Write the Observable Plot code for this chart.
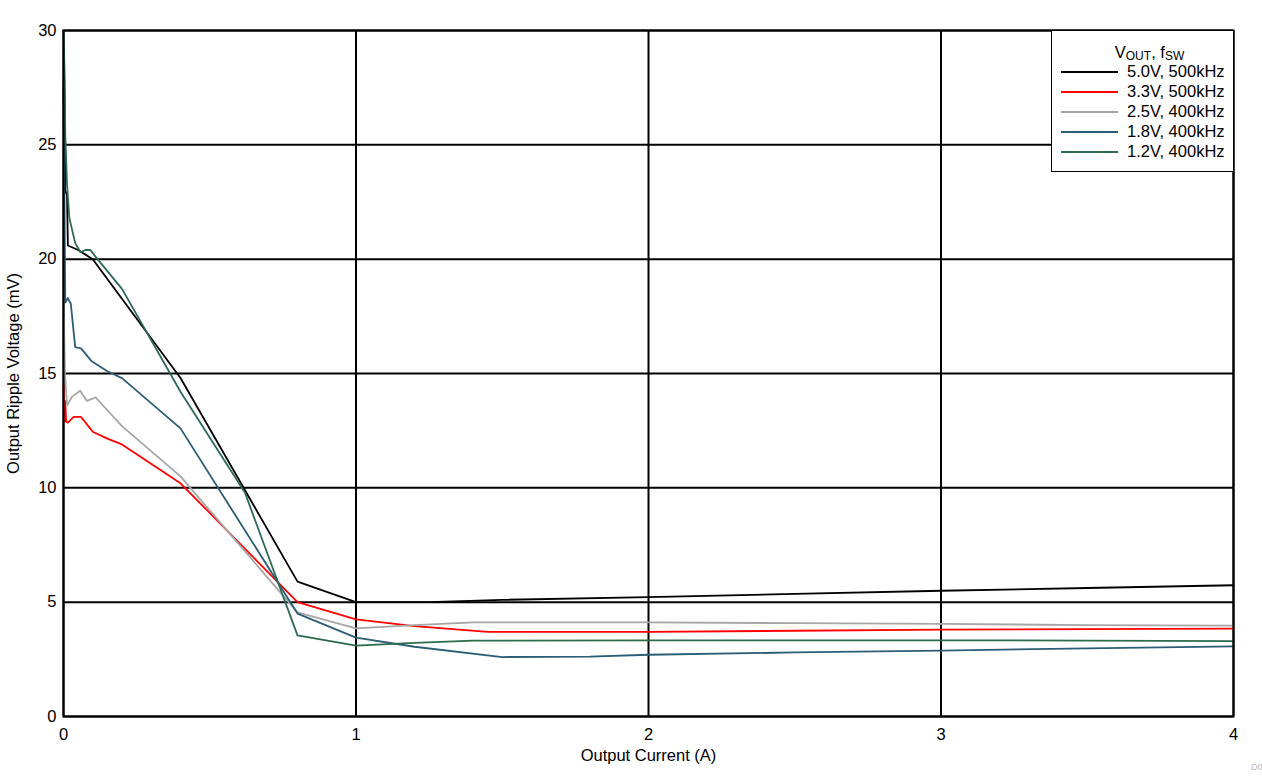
<!DOCTYPE html>
<html>
<head>
<meta charset="utf-8">
<script src="https://cdn.jsdelivr.net/npm/d3@7"></script>
<script src="https://cdn.jsdelivr.net/npm/@observablehq/plot@0.6"></script>
<style>
  body { margin: 0; background: #fff; font-family: "Liberation Sans", Arial, sans-serif; }
  #wrap { position: relative; width: 1262px; height: 776px; }
  #legend { position: absolute; left: 1051px; top: 30px; width: 183px; height: 142px; border: 1.5px solid #000; background: #fff; font-size: 16.5px; color: #000; box-sizing: border-box; }
  #legend .title { text-align: center; margin-top: 12px; margin-left: 14px; line-height: 18px; height: 18px; }
  #legend .title sub { font-size: 12px; vertical-align: -2px; line-height: 0; }
  #legend .row { position: relative; height: 20px; line-height: 20px; }
  #legend .sw { position: absolute; left: 9px; top: 10px; width: 57px; height: 2px; }
  #legend .lab { position: absolute; left: 75px; top: 0; white-space: nowrap; }
  #mark { position: absolute; left: 1251px; top: 762px; font-size: 9px; color: #bbb; }
</style>
</head>
<body>
<div id="wrap"><div id="chart"></div><div id="legend"></div><div id="mark">D0</div></div>
<script>
// Series labels and colours
const seriesNames = ["5.0V, 500kHz", "3.3V, 500kHz", "2.5V, 400kHz", "1.8V, 400kHz", "1.2V, 400kHz"];
const seriesColors = ["#000000", "#ff0000", "#a6a6a6", "#2b5d75", "#2c6b4e"];

// 5.0V, 500kHz
const x50 = [0.0, 0.002, 0.004, 0.006, 0.012, 0.015, 0.05, 0.1, 0.4, 0.8, 1.0, 1.25, 1.5, 2.0, 2.5, 3.0, 3.5, 4.0];
const y50 = [27.0, 28.5, 26.9, 23.0, 22.8, 20.6, 20.4, 20.0, 14.8, 5.9, 5.0, 5.0, 5.1, 5.22, 5.36, 5.5, 5.62, 5.74];

// 3.3V, 500kHz
const x33 = [0.0, 0.003, 0.006, 0.009, 0.015, 0.035, 0.06, 0.085, 0.1, 0.15, 0.2, 0.4, 0.8, 1.0, 1.2, 1.45, 2.0, 2.5, 3.0, 3.5, 4.0];
const y33 = [14.5, 12.9, 13.8, 12.9, 12.85, 13.1, 13.1, 12.7, 12.45, 12.15, 11.9, 10.2, 5.0, 4.25, 3.95, 3.7, 3.7, 3.75, 3.8, 3.82, 3.84];

// 2.5V, 400kHz
const x25 = [0.0, 0.005, 0.012, 0.03, 0.057, 0.08, 0.11, 0.2, 0.4, 0.8, 1.0, 1.2, 1.4, 2.0, 2.5, 3.0, 3.5, 4.0];
const y25 = [18.5, 15.0, 13.6, 14.0, 14.25, 13.8, 13.95, 12.7, 10.5, 4.55, 3.85, 4.0, 4.12, 4.12, 4.08, 4.05, 4.0, 3.97];

// 1.8V, 400kHz
const x18 = [0.0, 0.003, 0.006, 0.015, 0.025, 0.04, 0.06, 0.095, 0.15, 0.2, 0.4, 0.8, 1.0, 1.2, 1.5, 1.8, 2.0, 2.5, 3.0, 3.5, 4.0];
const y18 = [27.0, 23.0, 18.1, 18.3, 18.05, 16.15, 16.1, 15.55, 15.1, 14.8, 12.6, 4.5, 3.45, 3.05, 2.6, 2.62, 2.7, 2.8, 2.88, 2.98, 3.07];

// 1.2V, 400kHz
const x12 = [0.0, 0.003, 0.006, 0.012, 0.02, 0.04, 0.058, 0.075, 0.092, 0.11, 0.2, 0.4, 0.62, 0.8, 1.0, 1.2, 1.4, 2.0, 3.0, 3.5, 4.0];
const y12 = [30.0, 28.5, 25.5, 23.3, 21.8, 20.7, 20.3, 20.4, 20.4, 20.1, 18.7, 14.2, 9.8, 3.55, 3.1, 3.22, 3.32, 3.33, 3.33, 3.32, 3.3];

// Axis ticks
const xTicks = [0, 1, 2, 3, 4];
const yTicks = [0, 5, 10, 15, 20, 25, 30];

const seriesX = [x50, x33, x25, x18, x12];
const seriesY = [y50, y33, y25, y18, y12];
const rows = [];
seriesNames.forEach((name, i) => {
  seriesX[i].forEach((xv, j) => rows.push({ series: name, x: xv, y: seriesY[i][j] }));
});

const plot = Plot.plot({
  width: 1262,
  height: 776,
  marginLeft: 63,
  marginRight: 29,
  marginTop: 30,
  marginBottom: 60,
  style: { fontFamily: "'Liberation Sans', Arial, sans-serif", fontSize: "16.5px", color: "#000", background: "#fff" },
  x: { domain: [0, 4], ticks: xTicks, label: null },
  y: { domain: [0, 30], ticks: yTicks, label: null },
  color: { domain: seriesNames, range: seriesColors },
  marks: [
    Plot.gridX(xTicks, { stroke: "#000", strokeOpacity: 1, strokeWidth: 2 }),
    Plot.gridY(yTicks, { stroke: "#000", strokeOpacity: 1, strokeWidth: 2 }),
    Plot.axisX(xTicks, { tickSize: 0, tickPadding: 12, tickFormat: d3.format("d"), label: "Output Current (A)", labelAnchor: "center", labelArrow: "none", labelOffset: 44 }),
    Plot.axisY(yTicks, { tickSize: 0, tickPadding: 7, tickFormat: d3.format("d"), label: "Output Ripple Voltage (mV)", labelAnchor: "center", labelArrow: "none", labelOffset: 56 }),
    Plot.line(rows, { x: "x", y: "y", z: "series", stroke: "series", strokeWidth: 1.8, curve: "linear" }),
    Plot.frame({ stroke: "#000", strokeWidth: 2 })
  ]
});
document.getElementById("chart").appendChild(plot);

// Legend
const legend = document.getElementById("legend");
legend.innerHTML = '<div class="title">V<sub>OUT</sub>, f<sub>SW</sub></div>' +
  seriesNames.map((n, i) => `<div class="row"><div class="sw" style="background:${seriesColors[i]}"></div><div class="lab">${n}</div></div>`).join("");
</script>
</body>
</html>
